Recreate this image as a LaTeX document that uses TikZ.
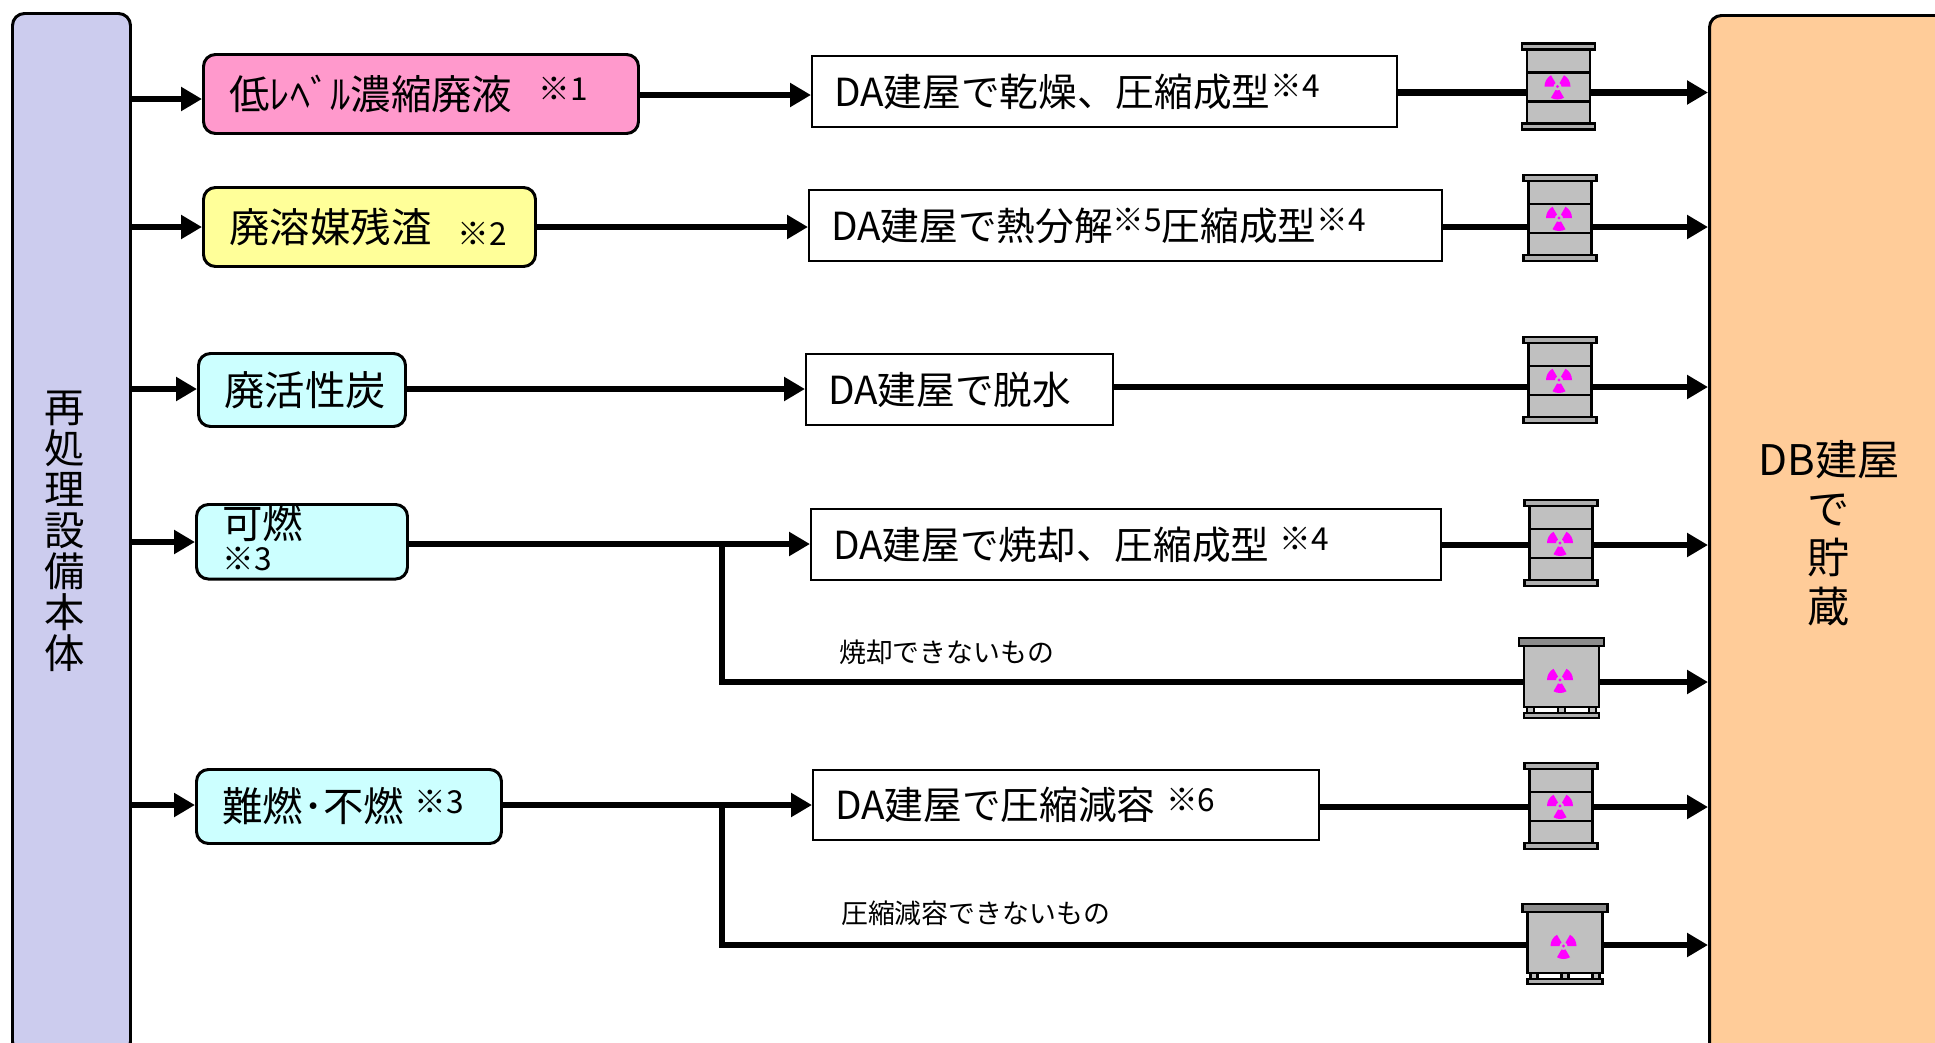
\documentclass[tikz,border=0pt]{standalone}
\usepackage{fontspec}
\setmainfont{Noto Sans CJK JP}
\usetikzlibrary{arrows.meta}

\def\px{0.02cm}
\newcommand{\remark}[2][5pt]{\raisebox{#1}{\fontsize{18pt}{18pt}\selectfont ※#2}}

\definecolor{lavender}{HTML}{CCCCEE}
\definecolor{peach}{HTML}{FFCC99}
\definecolor{pinkbox}{HTML}{FF99CC}
\definecolor{yellowbox}{HTML}{FFFF99}
\definecolor{cyanbox}{HTML}{CCFFFF}
\definecolor{drumgrey}{HTML}{C0C0C0}
\definecolor{lidgrey}{HTML}{8C8C8C}
\definecolor{hazard}{HTML}{FF00FF}

\tikzset{
	tank/.style={draw, line width=1.7pt, rounded corners=12*\px, anchor=north west, inner sep=0pt},
	wastebox/.style 2 args={draw, line width=1.7pt, rounded corners=12*\px, anchor=north west, inner ysep=0pt, inner xsep=26*\px,
		minimum width=#1*\px, minimum height=#2*\px, text width=(#1-52)*\px, align=left, font=\fontsize{23pt}{23pt}\selectfont},
	treatbox/.style 2 args={draw, line width=1.4pt, fill=white, anchor=north west, inner ysep=0pt, inner xsep=22*\px,
		minimum width=#1*\px, minimum height=#2*\px, text width=(#1-44)*\px, align=left, font=\fontsize{22pt}{22pt}\selectfont},
	flow/.style={line width=0.13cm, -{Triangle[length=0.42cm,width=0.46cm]}},
	pipe/.style={line width=0.13cm},
	small/.style={font=\fontsize{15.3pt}{15.3pt}\selectfont, anchor=west},
	part/.style={draw=black, line width=1.3pt},
	trefoil/.pic={
		\foreach \ang in {90,210,330}
			\fill[hazard] ({\ang-30}:4) -- ({\ang-30}:13) arc ({\ang-30}:{\ang+30}:13) -- ({\ang+30}:4) arc ({\ang+30}:{\ang-30}:4) -- cycle;
		\fill[hazard] (0,0) circle (1.7);
	},
	drum/.pic={
		\node[part, fill=drumgrey, inner sep=0pt, minimum width=63*\px, minimum height=74*\px] (-body) at (0,0) {};
		\draw[part] (-31.5,-14) -- (31.5,-14);
		\draw[part] (-31.5,15) -- (31.5,15);
		\draw[part, fill=lidgrey!70] (-36.5,-43) rectangle (36.5,-37);
		\draw[part, fill=lidgrey!70] (-36.5,37) rectangle (36.5,43);
		\pic at (-1,0) {trefoil};
	},
	crate/.pic={
		\node[part, fill=drumgrey, inner sep=0pt, minimum width=75*\px, minimum height=61*\px] (-body) at (0,-1.5) {};
		\draw[part, fill=lidgrey] (-42.5,-40) rectangle (42.5,-32);
		\foreach \leg in {-31,0,31}
			\draw[part, fill=drumgrey] (\leg-3.5,29) rectangle (\leg+3.5,35);
		\draw[part, fill=lidgrey!70] (-37.5,35) rectangle (37.5,40);
		\pic at (-1.5,2) {trefoil};
	}
}

\begin{document}
\begin{tikzpicture}[x=\px, y=-\px]

	\clip (0,0) rectangle (1935,1042);

	% Source and store
	\node[tank, fill=lavender, minimum width=118*\px, minimum height=1040*\px] (plant) at (11,12) {};
	\node[tank, fill=peach, minimum width=300*\px, minimum height=1040*\px] (store) at (1708,14) {};
	\node[align=center, font=\fontsize{23pt}{0.82cm}\selectfont] (plantLabel) at (65,531) {再\\処\\理\\設\\備\\本\\体};
	\node[align=center, font=\fontsize{24pt}{0.98cm}\selectfont] (storeLabel) at (1829,533) {DB建屋\\で\\貯\\蔵};

	% Waste boxes
	\node[wastebox={435}{79}, fill=pinkbox] (lowBox) at (202,53) {低ﾚﾍﾞﾙ濃縮廃液\hspace{15pt}\remark{1}};
	\node[wastebox={332}{79}, fill=yellowbox] (solBox) at (202,186) {廃溶媒残渣\hspace{15pt}\remark[-2pt]{2}};
	\node[wastebox={207}{73}, fill=cyanbox, inner xsep=20*\px] (carBox) at (197,352) {廃活性炭};
	\node[wastebox={211}{73}, fill=cyanbox, inner xsep=22*\px] (burBox) at (195,503) {可燃\hspace{22pt}\remark{3}};
	\node[wastebox={305}{74}, fill=cyanbox, inner xsep=22*\px] (harBox) at (195,768) {難燃･不燃\hspace{6pt}\remark{3}};

	% Treatment boxes
	\node[treatbox={585}{71}] (lowTreat) at (811,55) {DA建屋で乾燥、圧縮成型\remark{4}};
	\node[treatbox={633}{71}] (solTreat) at (808,189) {DA建屋で熱分解\remark{5}圧縮成型\remark{4}};
	\node[treatbox={307}{71}] (carTreat) at (805,353) {DA建屋で脱水};
	\node[treatbox={630}{71}] (burTreat) at (810,508) {DA建屋で焼却、圧縮成型\hspace{6pt}\remark{4}};
	\node[treatbox={506}{70}] (harTreat) at (812,769) {DA建屋で圧縮減容\hspace{6pt}\remark{6}};

	% Containers
	\pic (lowDrum) at (1558.5,86.5) {drum};
	\pic (solDrum) at (1560,218) {drum};
	\pic (carDrum) at (1560,380) {drum};
	\pic (burDrum) at (1561,543) {drum};
	\pic (burCrate) at (1561.5,678) {crate};
	\pic (harDrum) at (1561,806) {drum};
	\pic (harCrate) at (1565,944) {crate};

	% Lines of each row
	\foreach \row/\yin/\ymid/\yout in {low/99/95/92.5, sol/227/227/227, car/389/389/387, bur/542/544/545, har/805/805/807} {
		\coordinate (\row In) at (\row Box.west |- 0,\yin);
		\coordinate (\row Mid) at (\row Treat.west |- 0,\ymid);
		\coordinate (\row Out) at (\row Treat.east |- 0,\yout);
		\draw[flow] (plant.east |- \row In) -- (\row In);
		\draw[flow] (\row Box.east |- \row Mid) -- (\row Mid);
		\draw[pipe] (\row Out) -- (\row Drum-body.west |- \row Out);
		\draw[flow] (\row Drum-body.east |- \row Out) -- (store.west |- \row Out);
	}

	% Branches
	\foreach \row/\yturn in {bur/682, har/945} {
		\coordinate (\row Tee) at (722,0 |- \row Mid);
		\coordinate (\row Turn) at (722,\yturn);
		\draw[pipe] (\row Tee) -- (\row Turn) -- (\row Crate-body.west |- \row Turn);
		\draw[flow] (\row Crate-body.east |- \row Turn) -- (store.west |- \row Turn);
	}

	\node[small] (burNote) at (833,652) {焼却できないもの};
	\node[small] (harNote) at (835,913) {圧縮減容できないもの};

\end{tikzpicture}
\end{document}
